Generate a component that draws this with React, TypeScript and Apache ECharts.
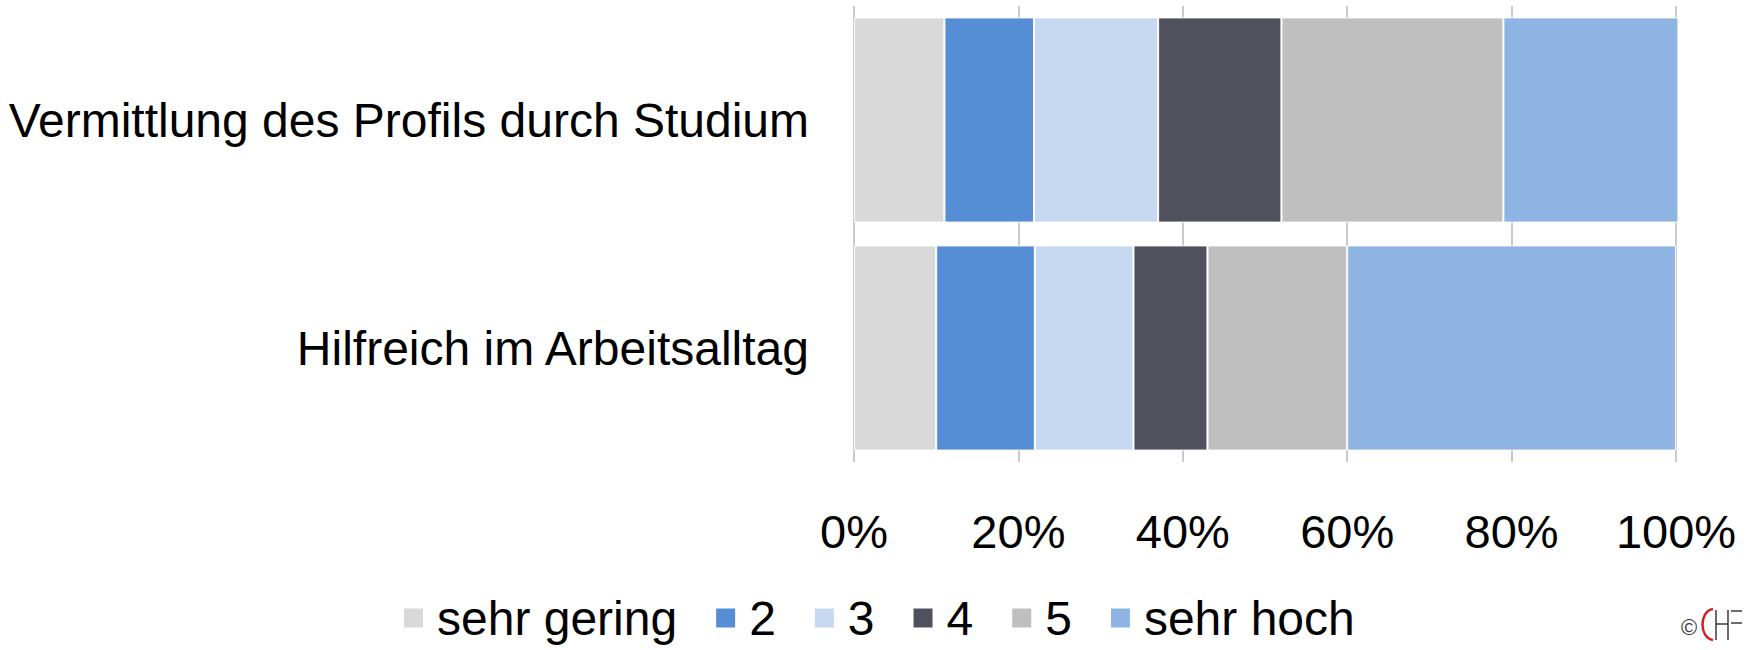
import React, { useEffect, useRef } from "react";
import * as echarts from "echarts";

const categories = ["Vermittlung des Profils durch Studium", "Hilfreich im Arbeitsalltag"];
const seriesNames = ["sehr gering", "2", "3", "4", "5", "sehr hoch"];
const sehrGering = [11.0, 10];
const v2 = [10.9, 12];
const v3 = [15.1, 12];
const v4 = [15.0, 9];
const v5 = [27.0, 17];
const sehrHoch = [21.3, 40];
const seriesValues = [sehrGering, v2, v3, v4, v5, sehrHoch];
const colors = ["#D9D9D9", "#558ED5", "#C6D9F1", "#4F515C", "#BFBFBF", "#8EB4E3"];
const xTicks = { min: 0, max: 100, interval: 20 };

const FONT = "'Liberation Sans', Arial, sans-serif";

export default function App() {
  const ref = useRef<HTMLDivElement>(null);
  useEffect(() => {
    if (!ref.current) return;
    const chart = echarts.init(ref.current, null, { renderer: "svg" });
    const ink = "#3a3a3a";
    chart.setOption({
      animation: false,
      backgroundColor: "#ffffff",
      textStyle: { fontFamily: FONT },
      grid: { left: 854, right: 78, top: 6, bottom: 188, containLabel: false },
      xAxis: {
        type: "value",
        min: xTicks.min,
        max: xTicks.max,
        interval: xTicks.interval,
        axisLine: { show: false },
        axisTick: { show: false },
        splitLine: { show: true, lineStyle: { color: "#c9c9d1", width: 2 } },
        axisLabel: {
          formatter: "{value}%",
          fontSize: 47,
          color: "#000",
          fontFamily: FONT,
          margin: 46,
        },
      },
      yAxis: {
        type: "category",
        inverse: true,
        data: categories,
        axisLine: { show: false },
        axisTick: { show: false },
        axisLabel: { fontSize: 48, color: "#000", fontFamily: FONT, margin: 45 },
      },
      legend: {
        data: seriesNames,
        left: 402,
        top: 594,
        padding: 0,
        icon: "rect",
        itemWidth: 21,
        itemHeight: 21,
        itemGap: 37,
        textStyle: { fontSize: 48, color: "#000", fontFamily: FONT, padding: [0, 0, 0, 8] },
      },
      series: seriesNames.map((name, i) => ({
        name,
        type: "bar",
        stack: "total",
        barCategoryGap: "10%",
        clip: false,
        data: seriesValues[i],
        itemStyle: { color: colors[i], borderColor: "#ffffff", borderWidth: 1 },
      })),
      graphic: [
        { type: "text", left: 1681, top: 616, style: { text: "©", fontSize: 22, fill: ink, fontFamily: FONT } },
        {
          type: "bezierCurve",
          shape: { x1: 1713, y1: 609, cpx1: 1699, cpy1: 611, cpx2: 1699, cpy2: 638, x2: 1713, y2: 640 },
          style: { stroke: "#d42020", lineWidth: 2.5, fill: "none" },
        },
        { type: "line", shape: { x1: 1716, y1: 610, x2: 1716, y2: 640 }, style: { stroke: ink, lineWidth: 1.5 } },
        { type: "line", shape: { x1: 1728, y1: 610, x2: 1728, y2: 640 }, style: { stroke: ink, lineWidth: 1.5 } },
        { type: "line", shape: { x1: 1716, y1: 624, x2: 1728, y2: 624 }, style: { stroke: ink, lineWidth: 1.5 } },
        { type: "line", shape: { x1: 1731, y1: 611, x2: 1742, y2: 611 }, style: { stroke: ink, lineWidth: 1.5 } },
        { type: "line", shape: { x1: 1731, y1: 623, x2: 1742, y2: 623 }, style: { stroke: ink, lineWidth: 1.5 } },
      ],
    });
    return () => chart.dispose();
  }, []);
  return (
    <div
      ref={ref}
      style={{ position: "fixed", left: 0, top: 0, width: 1754, height: 650, background: "#fff" }}
    />
  );
}
